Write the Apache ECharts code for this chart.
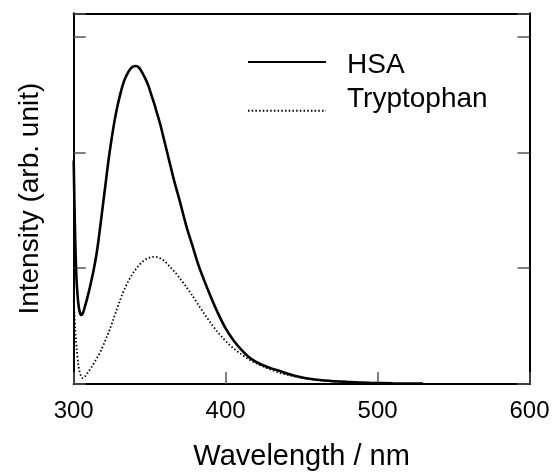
<!DOCTYPE html>
<html>
<head>
<meta charset="utf-8">
<script src="https://cdn.jsdelivr.net/npm/echarts@6/dist/echarts.min.js"></script>
<style>html,body{margin:0;padding:0;background:#fff}#c{width:552px;height:473px}</style>
</head>
<body>
<div id="c"></div>
<script>
const seriesNames = ['HSA', 'Tryptophan'];
const xTicks = [300, 400, 500, 600];
const hsaWavelength = [300,300.5,301,301.5,302,303,304,305,306,307,309,311,313,315,317,319,321,323,325,327,329,331,333,335,337,339,341,343,345,347,349,351,353,355,357,360,363,366,370,374,378,382,386,390,395,400,405,410,415,420,425,430,436,442,449,455,465,480,495,510,530];
const hsaIntensity = [1.93,1.55,1.25,1.02,0.87,0.70,0.62,0.595,0.61,0.65,0.745,0.855,0.975,1.12,1.31,1.52,1.73,1.94,2.12,2.28,2.41,2.52,2.61,2.67,2.715,2.74,2.745,2.73,2.69,2.64,2.58,2.50,2.42,2.33,2.24,2.08,1.92,1.76,1.57,1.37,1.20,1.03,0.89,0.76,0.61,0.48,0.38,0.30,0.235,0.19,0.16,0.135,0.11,0.085,0.06,0.045,0.03,0.018,0.01,0.006,0.004];
const trpWavelength = [300,300.5,301,301.5,302,303,304,305,306,307,308,310,312,314,316,318,320,322,324,326,328,330,332,334,336,338,340,342,344,346,348,350,352,354,356,358,360,363.4,367,370,374,378,382,386,390,394,398,402,406,410,415,420,425,430,436,442,448,455,465,480,500];
const trpIntensity = [0.72,0.60,0.48,0.38,0.30,0.17,0.10,0.065,0.05,0.058,0.075,0.112,0.152,0.195,0.24,0.29,0.35,0.415,0.48,0.555,0.63,0.705,0.775,0.835,0.89,0.935,0.975,1.01,1.04,1.063,1.08,1.091,1.097,1.097,1.09,1.077,1.058,1.011,0.96,0.91,0.84,0.765,0.685,0.605,0.53,0.46,0.40,0.345,0.30,0.26,0.215,0.18,0.15,0.122,0.095,0.075,0.058,0.043,0.028,0.016,0.008];

const FONT = 'Liberation Sans, Arial, sans-serif';
const chart = echarts.init(document.getElementById('c'), null, {renderer: 'canvas'});
const zip = (a, b) => a.map((v, i) => [v, b[i]]);
const legendBase = {
  orient: 'vertical', left: 247, itemWidth: 78, itemHeight: 14, padding: 0,
  selectedMode: false,
  itemStyle: {color: 'rgba(0,0,0,0)', borderColor: 'rgba(0,0,0,0)', borderWidth: 0}
};
const richT = {fontFamily: FONT, fontSize: 28, lineHeight: 28, color: '#000', padding: [0, 0, 0, 16]};
chart.setOption({
  animation: false,
  backgroundColor: '#fff',
  grid: {left: 73.7, right: 22.5, top: 13.3, bottom: 89, containLabel: false, outerBoundsMode: 'none'},
  legend: [
    Object.assign({}, legendBase, {
      top: 47.5,
      formatter: name => '{s| }\n{t|' + name + '}',
      textStyle: {fontFamily: FONT, fontSize: 28, color: '#000',
        rich: {t: richT, s: {fontSize: 1, lineHeight: 6}}},
      data: [seriesNames[0]]
    }),
    Object.assign({}, legendBase, {
      top: 85.2,
      formatter: name => '{t|' + name + '}\n{s| }',
      textStyle: {fontFamily: FONT, fontSize: 28, color: '#000',
        rich: {t: richT, s: {fontSize: 1, lineHeight: 23}}},
      data: [seriesNames[1]]
    })
  ],
  xAxis: [{
    type: 'value', min: xTicks[0], max: xTicks[xTicks.length - 1], interval: 100,
    name: 'Wavelength / nm', nameLocation: 'middle', nameGap: 58,
    nameTextStyle: {fontFamily: FONT, fontSize: 29, color: '#000'},
    axisLine: {show: true, onZero: false, lineStyle: {color: '#000', width: 2}},
    axisTick: {show: true, inside: true, length: 12, lineStyle: {color: '#555', width: 1.5}},
    axisLabel: {fontFamily: FONT, fontSize: 24, color: '#000', margin: 15},
    splitLine: {show: false}
  }, {
    type: 'value', position: 'top', min: 300, max: 600, interval: 100,
    axisLine: {show: true, onZero: false, lineStyle: {color: '#000', width: 2}},
    axisTick: {show: false}, axisLabel: {show: false}, splitLine: {show: false}
  }],
  yAxis: [{
    type: 'value', min: 0, max: 3.2, interval: 1,
    name: 'Intensity (arb. unit)', nameLocation: 'middle', nameGap: 29,
    nameTextStyle: {fontFamily: FONT, fontSize: 28, color: '#000'},
    axisLine: {show: true, onZero: false, lineStyle: {color: '#000', width: 2}},
    axisTick: {show: true, inside: true, length: 12, lineStyle: {color: '#555', width: 1.5}},
    axisLabel: {show: false}, splitLine: {show: false}
  }, {
    type: 'value', position: 'right', min: 0, max: 3.2, interval: 1,
    axisLine: {show: true, onZero: false, lineStyle: {color: '#000', width: 2}},
    axisTick: {show: true, inside: true, length: 12, lineStyle: {color: '#555', width: 1.5}},
    axisLabel: {show: false}, splitLine: {show: false}
  }],
  series: [{
    name: seriesNames[0], type: 'line', symbol: 'none', smooth: 0.3,
    lineStyle: {color: '#000', width: 2.6, type: 'solid'},
    itemStyle: {color: '#000'},
    data: zip(hsaWavelength, hsaIntensity)
  }, {
    name: seriesNames[1], type: 'line', symbol: 'none', smooth: 0.3,
    lineStyle: {color: '#000', width: 1.8, type: [1.5, 2.2]},
    itemStyle: {color: '#000'},
    data: zip(trpWavelength, trpIntensity)
  }]
});
</script>
</body>
</html>
